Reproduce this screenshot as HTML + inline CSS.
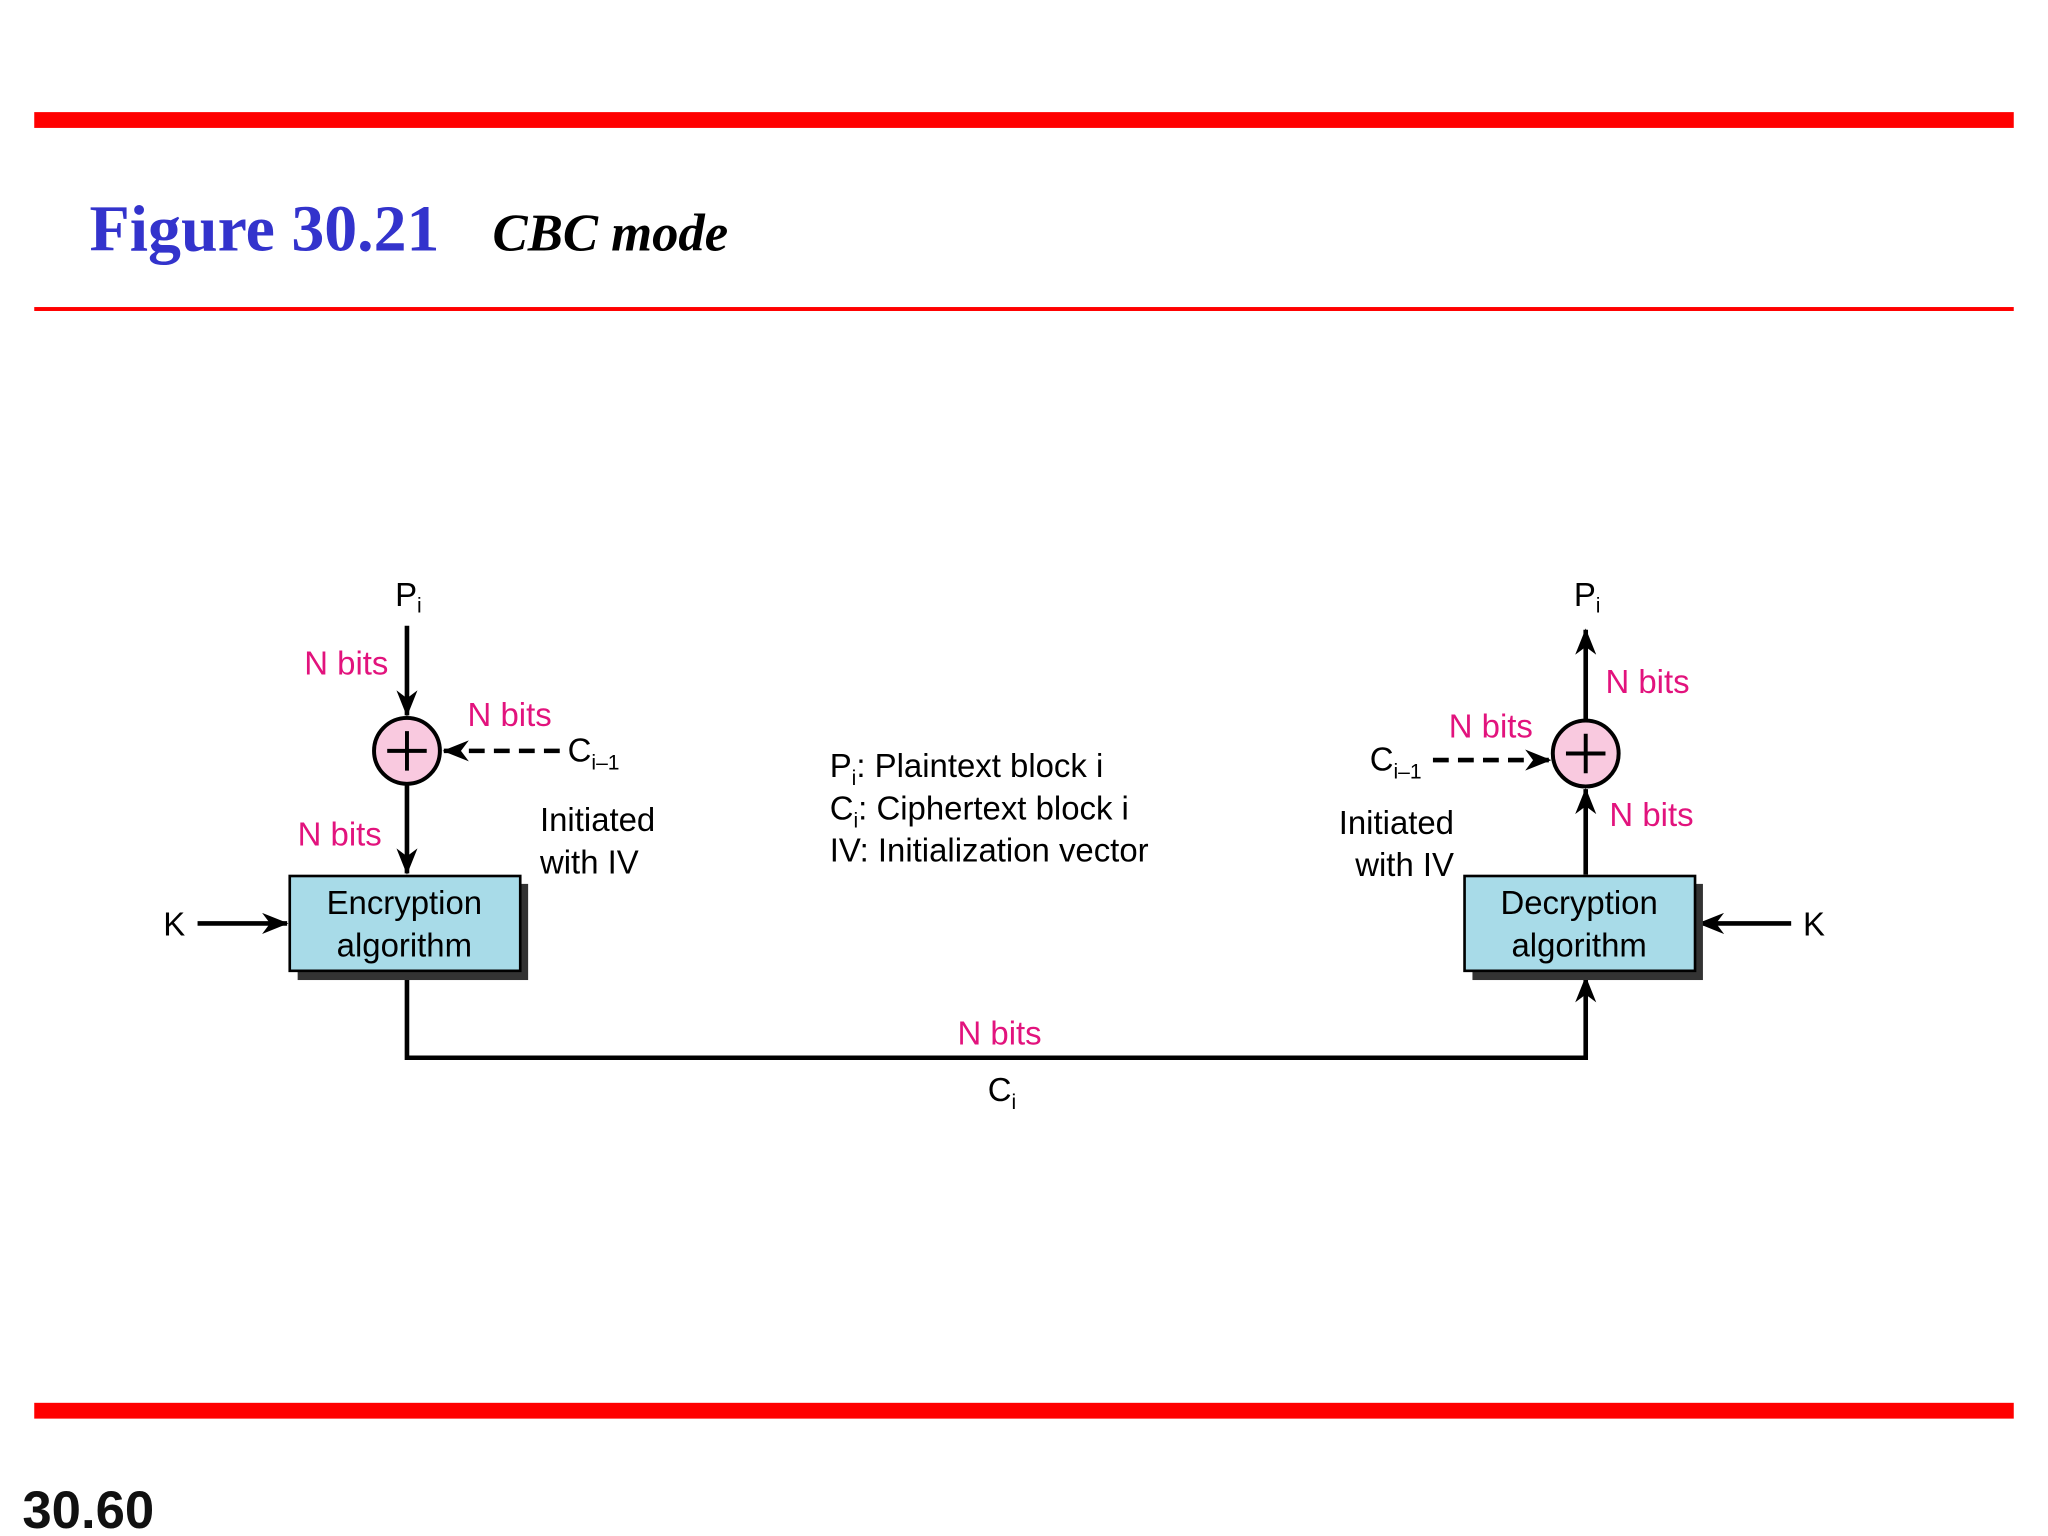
<!DOCTYPE html>
<html><head><meta charset="utf-8"><style>
html,body{margin:0;padding:0;background:#fff;}
svg{display:block;}
text{font-family:"Liberation Sans",sans-serif;}
</style></head><body>
<svg width="2048" height="1536" viewBox="0 0 1555 1166" xmlns="http://www.w3.org/2000/svg">
<defs>
<marker id="a" viewBox="0 0 20 16" refX="19" refY="8" markerWidth="20" markerHeight="16" markerUnits="userSpaceOnUse" orient="auto">
<path d="M0,0 L20,8 L0,16 L6,8 Z" fill="#000"/>
</marker>
</defs>
<rect x="26" y="85" width="1503" height="12" fill="#ff0000"/>
<rect x="26" y="233" width="1503" height="3" fill="#ff0000"/>
<rect x="26" y="1065" width="1503" height="12" fill="#ff0000"/>
<text x="68" y="190" font-family="Liberation Serif" font-weight="bold" font-size="50" fill="#3333cc" style="font-family:'Liberation Serif',serif">Figure 30.21</text>
<text x="374" y="190" font-weight="bold" font-style="italic" font-size="40" fill="#000" style="font-family:'Liberation Serif',serif">CBC mode</text>
<text x="17" y="1160" font-weight="bold" font-size="40" fill="#111">30.60</text>

<g stroke="#000" stroke-width="3.5" fill="none">
<line x1="309" y1="475" x2="309" y2="543" marker-end="url(#a)"/>
<line x1="309" y1="596" x2="309" y2="663" marker-end="url(#a)"/>
<line x1="425" y1="570" x2="337" y2="570" stroke-dasharray="12,7" marker-end="url(#a)"/>
<line x1="150" y1="701" x2="218" y2="701" marker-end="url(#a)"/>
<polyline points="309,739 309,803 1204,803 1204,742" marker-end="url(#a)"/>
<line x1="1204" y1="664" x2="1204" y2="599" marker-end="url(#a)"/>
<line x1="1204" y1="546" x2="1204" y2="478" marker-end="url(#a)"/>
<line x1="1088" y1="577" x2="1177" y2="577" stroke-dasharray="12,7" marker-end="url(#a)"/>
<line x1="1360" y1="701" x2="1290" y2="701" marker-end="url(#a)"/>
</g>

<rect x="226" y="671" width="175" height="73" fill="#333"/>
<rect x="220" y="665" width="175" height="72" fill="#a8dbe8" stroke="#000" stroke-width="2"/>
<rect x="1118" y="671" width="175" height="73" fill="#333"/>
<rect x="1112" y="665" width="175" height="72" fill="#a8dbe8" stroke="#000" stroke-width="2"/>

<g stroke="#000" stroke-width="3">
<circle cx="309" cy="570" r="25" fill="#f9c9df"/>
<line x1="294" y1="570" x2="324" y2="570"/><line x1="309" y1="555" x2="309" y2="585"/>
<circle cx="1204" cy="572" r="25" fill="#f9c9df"/>
<line x1="1189" y1="572" x2="1219" y2="572"/><line x1="1204" y1="557" x2="1204" y2="587"/>
</g>

<g font-size="25" fill="#000">
<text x="300" y="460">P<tspan font-size="16" dy="5">i</tspan></text>
<text x="1195" y="460">P<tspan font-size="16" dy="5">i</tspan></text>
<text x="431" y="578">C<tspan font-size="16" dy="6">i–1</tspan></text>
<text x="1040" y="585">C<tspan font-size="16" dy="6">i–1</tspan></text>
<text x="124" y="710">K</text>
<text x="1369" y="710">K</text>
<text x="410" y="631">Initiated</text>
<text x="410" y="663">with IV</text>
<text x="1104" y="633" text-anchor="end">Initiated</text>
<text x="1104" y="665" text-anchor="end">with IV</text>
<text x="307" y="694" text-anchor="middle">Encryption</text>
<text x="307" y="726" text-anchor="middle">algorithm</text>
<text x="1199" y="694" text-anchor="middle">Decryption</text>
<text x="1199" y="726" text-anchor="middle">algorithm</text>
<text x="750" y="836">C<tspan font-size="16" dy="6">i</tspan></text>
<text x="630" y="590">P<tspan font-size="16" dy="6">i</tspan><tspan dy="-6">: Plaintext block i</tspan></text>
<text x="630" y="622">C<tspan font-size="16" dy="6">i</tspan><tspan dy="-6">: Ciphertext block i</tspan></text>
<text x="630" y="654">IV: Initialization vector</text>
</g>
<g font-size="25" fill="#e2137d">
<text x="231" y="512">N bits</text>
<text x="355" y="551">N bits</text>
<text x="226" y="642">N bits</text>
<text x="1219" y="526">N bits</text>
<text x="1100" y="560">N bits</text>
<text x="1222" y="627">N bits</text>
<text x="727" y="793">N bits</text>
</g>
</svg>
</body></html>
